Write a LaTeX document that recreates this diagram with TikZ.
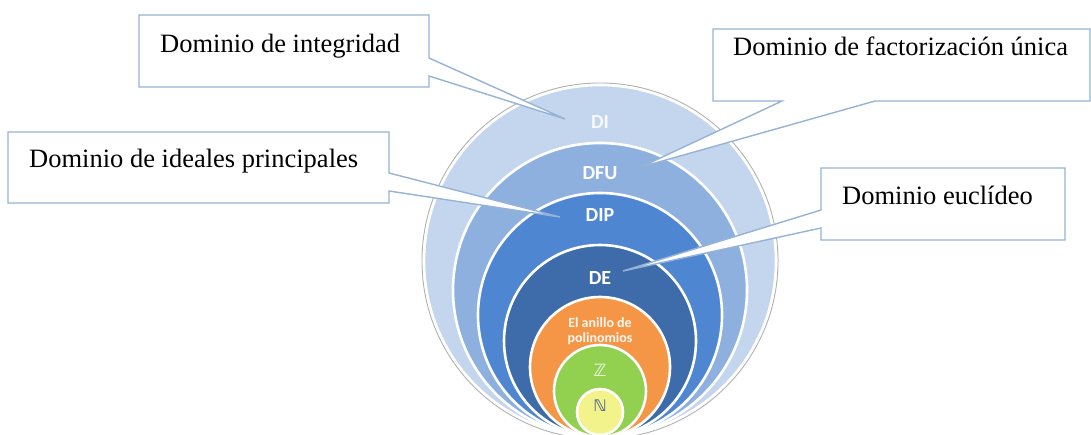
\documentclass[tikz,border=0pt]{standalone}
\usepackage{fontspec}
\setmainfont{Liberation Serif}
\newfontfamily\calfont{Carlito}
\newfontfamily\djvfont{DejaVu Sans}
\definecolor{cDI}{HTML}{C4D6EE}
\definecolor{cDFU}{HTML}{8EB0DE}
\definecolor{cDIP}{HTML}{4F86D2}
\definecolor{cDE}{HTML}{3E6CAA}
\definecolor{cOR}{HTML}{F59646}
\definecolor{cGR}{HTML}{92D050}
\definecolor{cYE}{HTML}{F3F38C}
\definecolor{cEdge}{HTML}{95B3D7}
\definecolor{cN}{HTML}{5A6E8C}
\begin{document}
\begin{tikzpicture}[x=1pt,y=-1pt,
  ring/.style={circle, draw=white, line width=2.6pt, inner sep=0pt, outer sep=0pt},
  lab/.style={text=white, font=\calfont\bfseries\fontsize{20}{20}\selectfont, inner sep=0pt},
  callout/.style={draw=cEdge, line width=1.4pt, fill=white, line join=miter},
  ctext/.style={anchor=base west, inner sep=0pt, font=\fontsize{26.5}{30}\selectfont}]
\clip (0,0) rectangle (1091,434);
\fill[white] (0,0) rectangle (1091,434);
% rings
\node[draw=gray!60, line width=1pt, circle, minimum size=356pt, inner sep=0pt] (dio) at (600,261) {};
\node[ring, fill=cDI, minimum size=352pt] (di) at (600,261) {};
\node[ring, fill=cDFU, minimum size=294pt] (dfu) at (600,290) {};
\node[ring, fill=cDIP, minimum size=244pt] (dip) at (600,315) {};
\node[ring, fill=cDE, minimum size=192pt] (de) at (600,341) {};
\node[ring, fill=cOR, minimum size=140pt] (or) at (600,367) {};
\node[ring, fill=cGR, minimum size=92pt] (gr) at (600,391) {};
\node[ring, fill=cYE, minimum size=46pt] (ye) at (600,412) {};
% ring labels
\node[lab, text=white!85!cDI] (ldi) at (600,122) {DI};
\node[lab] (ldfu) at (600,173) {DFU};
\node[lab] (ldip) at (600,215) {DIP};
\node[lab] (lde) at (600,278) {DE};
\node[lab, font=\calfont\bfseries\fontsize{14}{15.5}\selectfont, align=center, text=white!92!cOR] (lor) at (600,331) {El anillo de\\polinomios};
\node[lab, font=\djvfont\bfseries\fontsize{17}{17}\selectfont, text=white!80!cGR] (lz) at (600,370) {ℤ};
\node[lab, font=\djvfont\bfseries\fontsize{16}{16}\selectfont, text=cN] (ln) at (600,406) {ℕ};
% callout tips
\coordinate (t1) at (565,119);
\coordinate (t2) at (641,167);
\coordinate (t3) at (560,217);
\coordinate (t4) at (623,271);
% callouts
\draw[callout] (139,15) -- (429,15) -- (429,58) -- (t1) -- (429,76) -- (429,87) -- (139,87) -- cycle;
\node[ctext] (c1) at (160,52) {Dominio de integridad};
\draw[callout] (713,29) -- (1090,29) -- (1090,101) -- (875,101) -- (t2) -- (782,101) -- (713,101) -- cycle;
\node[ctext] (c2) at (733,55) {Dominio de factorización única};
\draw[callout] (8,132) -- (389,132) -- (389,173) -- (t3) -- (389,191) -- (389,203) -- (8,203) -- cycle;
\node[ctext] (c3) at (29,167) {Dominio de ideales principales};
\draw[callout] (821,168) -- (1065,168) -- (1065,240) -- (821,240) -- (821,228) -- (t4) -- (821,210) -- cycle;
\node[ctext] (c4) at (842,204) {Dominio euclídeo};
\end{tikzpicture}
\end{document}
